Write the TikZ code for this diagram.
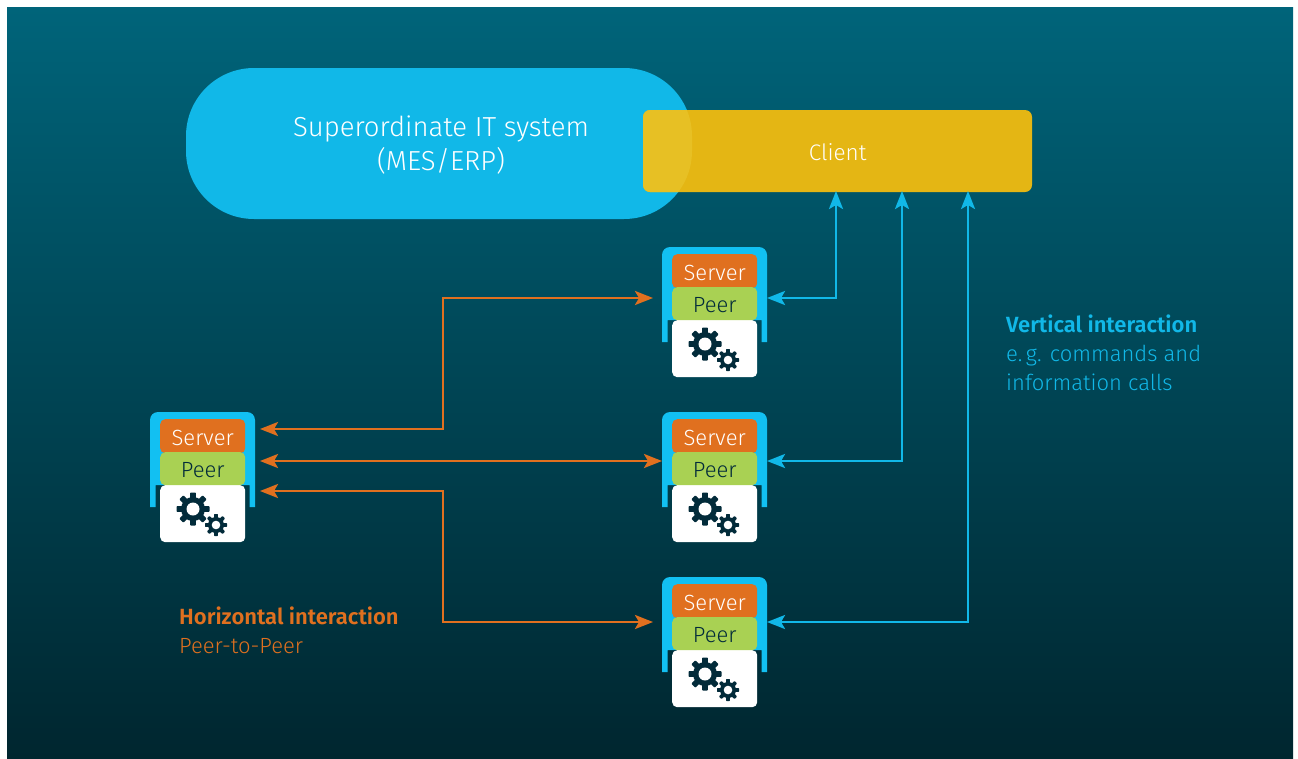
\documentclass[tikz,border=0pt]{standalone}
\usepackage{fontspec}
\setmainfont{Fira Sans}[UprightFont=* Light,BoldFont=* SemiBold]
\usetikzlibrary{arrows.meta}
\definecolor{bgtop}{HTML}{00647A}
\definecolor{bgbot}{HTML}{00262F}
\definecolor{skyb}{HTML}{11B8E8}
\definecolor{frameb}{HTML}{12C0F2}
\definecolor{amber}{HTML}{E4B614}
\definecolor{amberlight}{HTML}{E7C024}
\definecolor{orng}{HTML}{E0701F}
\definecolor{lime}{HTML}{A9D153}
\definecolor{ink}{HTML}{022B3A}
\tikzset{
  x=1pt,y=-1pt,
  card/.style={anchor=north west,minimum width=85pt,inner sep=0pt,rounded corners=5pt,text height=18pt,text depth=0pt,font=\fontsize{22}{22}\selectfont},
  hlink/.style={draw=orng,line width=2.6pt,{Stealth[length=18pt,width=14pt,inset=4pt]}-{Stealth[length=18pt,width=14pt,inset=4pt]},sharp corners},
  vlink/.style={draw=skyb,line width=2.6pt,{Stealth[length=18pt,width=14pt,inset=4pt]}-{Stealth[length=18pt,width=14pt,inset=4pt]},sharp corners},
  note/.style={anchor=base west,inner sep=0pt,font=\fontsize{22}{22}\selectfont},
}
\newcommand{\gearshape}[5]{% cx cy Rout Rin hole
  \fill[ink] (#1,#2) circle[radius=#4];
  \foreach \a in {0,45,...,315}{
    \fill[ink,rotate around={\a:(#1,#2)},rounded corners=0.6pt] ({#1-#3*0.2},#2) -- ({#1-#3*0.17},{#2-#3}) -- ({#1+#3*0.17},{#2-#3}) -- ({#1+#3*0.2},#2) -- cycle;
  }
  \fill[white] (#1,#2) circle[radius=#5];
}
\newcommand{\device}[3]{% name x y
  \begin{scope}[shift={(#2,#3)}]
    \fill[frameb] (0,95) -- (0,8) [rounded corners=8pt] -- (0,0) -- (105,0) [sharp corners] -- (105,95) -- (99.5,95) -- (99.5,73) -- (5.5,73) -- (5.5,95) -- cycle;
    \node[card,fill=orng,text=white,minimum height=34pt] (#1-server) at (10,7) {Server};
    \node[card,fill=white,minimum height=57pt] (#1-body) at (10,73) {};
    \node[card,fill=lime,text=ink,minimum height=33pt] (#1-peer) at (10,40) {Peer};
    \gearshape{43}{97}{16.5}{12}{6.5}
    \gearshape{66}{113}{11}{8}{4.3}
  \end{scope}
}
\begin{document}
\begin{tikzpicture}
\useasboundingbox (0,0) rectangle (1298,758);
\fill[white] (0,0) rectangle (1298,758);
\shade[top color=bgtop,bottom color=bgbot] (7,7) rectangle (1293,758);
% superordinate system and client
\fill[skyb,rounded corners=68pt] (186,68) rectangle (692,219);
\fill[amber,rounded corners=7pt] (643,110) rectangle (1032,192);
\begin{scope}
  \clip[rounded corners=7pt] (643,110) rectangle (1032,192);
  \fill[amberlight,rounded corners=68pt] (186,68) rectangle (692,219);
\end{scope}
\node[anchor=north west,inner sep=0pt,minimum width=389pt,minimum height=82pt,text=white,text height=18pt,text depth=0pt,font=\fontsize{22.5}{22.5}\selectfont] (client) at (643,110) {Client};
\node[align=center,text=white,inner sep=0pt,font=\fontsize{27.5}{34}\selectfont] (system) at (441,145) {Superordinate IT system\\(MES/ERP)};
% devices
\device{a}{662}{247}
\device{b}{662}{412}
\device{c}{662}{577}
\device{l}{150}{412}
% anchors on the devices
\coordinate (aR) at (767,298);
\coordinate (bR) at (767,461);
\coordinate (cR) at (767,622);
\coordinate (aL) at (653,298);
\coordinate (bL) at (662,461);
\coordinate (cL) at (653,622);
\coordinate (lA) at (260,429);
\coordinate (lB) at (260,461);
\coordinate (lC) at (260,491);
\coordinate (cA) at (836,191);
\coordinate (cB) at (902,191);
\coordinate (cC) at (968,191);
\coordinate (busX) at (443,0);
% horizontal links
\draw[hlink] (lA) -| (busX |- aL) -- (aL);
\draw[hlink] (lB) -- (bL);
\draw[hlink] (lC) -| (busX |- cL) -- (cL);
% vertical links
\draw[vlink] (cA) |- (aR);
\draw[vlink] (cB) |- (bR);
\draw[vlink] (cC) |- (cR);
% notes
\node[note,text=skyb] (v1) at (1006,332) {\bfseries Vertical interaction};
\node[note,text=skyb] (v2) at (1006,361) {e.\,g. commands and};
\node[note,text=skyb] (v3) at (1006,390) {information calls};
\node[note,text=orng] (h1) at (179,624) {\bfseries Horizontal interaction};
\node[note,text=orng] (h2) at (179,653) {Peer-to-Peer};
\end{tikzpicture}
\end{document}
